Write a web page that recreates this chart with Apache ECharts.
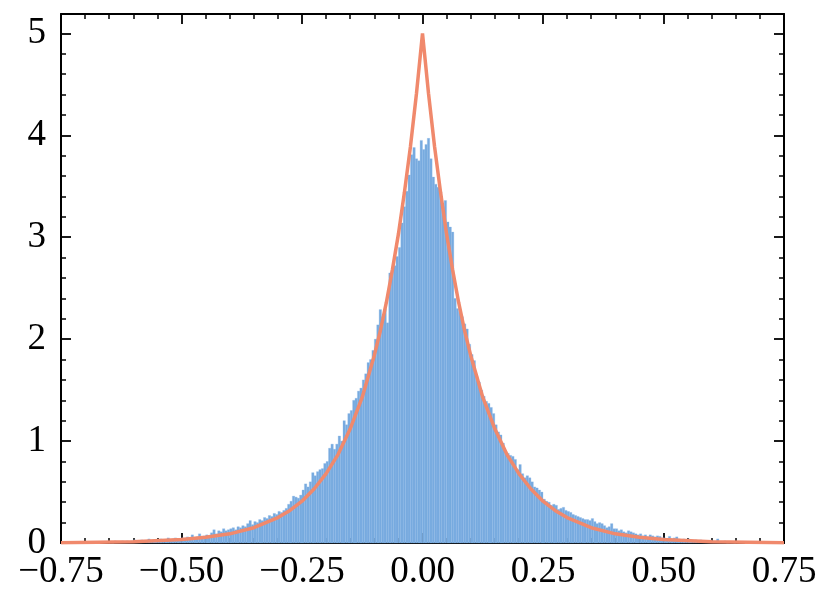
<!DOCTYPE html>
<html>
<head>
<meta charset="utf-8">
<script src="https://cdn.jsdelivr.net/npm/echarts@6/dist/echarts.min.js"></script>
<style>
  html, body { margin: 0; padding: 0; background: #fff; }
  #main { width: 831px; height: 602px; }
</style>
</head>
<body>
<div id="main"></div>
<script>
// histogram: bins of width 0.005 starting at -0.65
var binStart = -0.65
var binWidth = 0.005
var binHeights = [
  0.01, 0.00, 0.02, 0.01, 0.01, 0.02, 0.01, 0.02, 0.01, 0.02,
  0.03, 0.02, 0.01, 0.03, 0.02, 0.02, 0.04, 0.02, 0.03, 0.03,
  0.03, 0.04, 0.03, 0.02, 0.05, 0.03, 0.04, 0.05, 0.03, 0.04,
  0.05, 0.04, 0.06, 0.05, 0.08, 0.05, 0.06, 0.09, 0.06, 0.07,
  0.08, 0.07, 0.10, 0.13, 0.09, 0.12, 0.11, 0.14, 0.12, 0.13,
  0.14, 0.15, 0.13, 0.16, 0.15, 0.17, 0.16, 0.19, 0.22, 0.18,
  0.21, 0.20, 0.23, 0.22, 0.25, 0.24, 0.27, 0.26, 0.29, 0.28,
  0.31, 0.30, 0.32, 0.34, 0.38, 0.41, 0.46, 0.45, 0.44, 0.47,
  0.52, 0.58, 0.55, 0.60, 0.69, 0.66, 0.70, 0.72, 0.73, 0.78,
  0.80, 0.93, 0.97, 0.92, 0.97, 1.05, 1.00, 1.20, 1.16, 1.27,
  1.30, 1.40, 1.42, 1.49, 1.52, 1.60, 1.66, 1.77, 1.80, 1.89,
  2.00, 2.14, 2.29, 2.22, 2.30, 2.16, 2.65, 2.68, 2.72, 2.81,
  2.90, 3.14, 3.30, 3.45, 3.61, 3.81, 3.88, 3.77, 3.75, 3.95,
  3.86, 3.91, 3.97, 3.77, 3.59, 3.52, 3.49, 3.45, 3.30, 3.36,
  3.15, 3.10, 3.05, 2.40, 2.30, 2.27, 2.22, 2.15, 2.10, 1.95,
  1.85, 1.79, 1.64, 1.58, 1.50, 1.44, 1.39, 1.37, 1.33, 1.27,
  1.16, 1.09, 1.06, 0.98, 0.90, 0.88, 0.86, 0.85, 0.82, 0.72,
  0.77, 0.68, 0.64, 0.66, 0.64, 0.60, 0.55, 0.54, 0.52, 0.50,
  0.43, 0.41, 0.40, 0.37, 0.38, 0.37, 0.33, 0.34, 0.35, 0.32,
  0.31, 0.30, 0.28, 0.27, 0.26, 0.25, 0.24, 0.23, 0.23, 0.22,
  0.24, 0.21, 0.19, 0.20, 0.19, 0.17, 0.15, 0.16, 0.19, 0.14,
  0.14, 0.12, 0.13, 0.11, 0.10, 0.12, 0.11, 0.10, 0.09, 0.08,
  0.09, 0.07, 0.08, 0.06, 0.08, 0.07, 0.06, 0.07, 0.065, 0.05,
  0.05, 0.04, 0.065, 0.04, 0.05, 0.06, 0.04, 0.03, 0.04, 0.03,
  0.04, 0.03, 0.02, 0.03, 0.02, 0.03, 0.02, 0.01, 0.02, 0.02,
  0.02, 0.01, 0.04, 0.01, 0.01, 0.02, 0.00, 0.01, 0.01, 0.00
]

// density curve
var curveX = [-0.75, -0.6, -0.5, -0.45, -0.4, -0.35, -0.3, -0.275, -0.25, -0.225, -0.2, -0.175, -0.15, -0.125, -0.1,
  -0.0875, -0.075, -0.0625, -0.05, -0.0375, -0.025, -0.0125, 0,
  0.0125, 0.025, 0.0375, 0.05, 0.0625, 0.075, 0.0875,
  0.1, 0.125, 0.15, 0.175, 0.2, 0.225, 0.25, 0.275, 0.3, 0.35, 0.4, 0.45, 0.5, 0.6, 0.75]
var curveY = [0.003, 0.012, 0.034, 0.056, 0.09, 0.15, 0.25, 0.32, 0.41, 0.53, 0.68, 0.87, 1.12, 1.43, 1.84,
  2.08, 2.36, 2.68, 3.03, 3.44, 3.89, 4.41, 5.00,
  4.41, 3.89, 3.44, 3.03, 2.68, 2.36, 2.08,
  1.84, 1.43, 1.12, 0.87, 0.68, 0.53, 0.41, 0.32, 0.25, 0.15, 0.09, 0.056, 0.034, 0.012, 0.003]

var xTicks = [-0.75, -0.5, -0.25, 0, 0.25, 0.5, 0.75]
var yTicks = [0, 1, 2, 3, 4, 5]

var chart = echarts.init(document.getElementById('main'))

var histData = binHeights.map(function (h, i) {
  var x0 = binStart + i * binWidth
  return [x0, x0 + binWidth, h]
})
var curveData = curveX.map(function (x, i) { return [x, curveY[i]] })

var font = 'Liberation Serif, DejaVu Serif, serif'
var fmtX = function (v) {
  var s = Math.abs(v).toFixed(2)
  return (v < -1e-9 ? '\u2212' : '') + s
}

function axisCommon (show) {
  return {
    axisLine: { show: true, onZero: false, lineStyle: { color: '#000', width: 2 } },
    axisTick: { show: true, inside: true, length: 10, lineStyle: { color: '#000', width: 1.8 } },
    minorTick: { show: true, splitNumber: 5, length: 5, lineStyle: { color: '#000', width: 1.5 } },
    splitLine: { show: false },
    axisLabel: { show: show }
  }
}

var xBottom = Object.assign(axisCommon(true), {
  type: 'value', position: 'bottom', min: -0.75, max: 0.75, interval: 0.25
})
xBottom.axisLabel = {
  show: true, fontFamily: font, fontSize: 37, color: '#000', margin: 11,
  formatter: fmtX
}
var xTop = Object.assign(axisCommon(false), {
  type: 'value', position: 'top', min: -0.75, max: 0.75, interval: 0.25
})
var yLeft = Object.assign(axisCommon(true), {
  type: 'value', position: 'left', min: 0, max: 5.19, interval: 1
})
yLeft.axisLabel = {
  show: true, fontFamily: font, fontSize: 37, color: '#000', margin: 15,
  showMaxLabel: false,
  formatter: function (v) { return yTicks.indexOf(v) >= 0 ? String(v) : '' }
}
var yRight = Object.assign(axisCommon(false), {
  type: 'value', position: 'right', min: 0, max: 5.19, interval: 1
})

chart.setOption({
  animation: false,
  grid: { left: 61, right: 47, top: 14, bottom: 59, containLabel: false },
  xAxis: [xBottom, xTop],
  yAxis: [yLeft, yRight],
  series: [
    {
      type: 'custom',
      name: 'hist',
      xAxisIndex: 0,
      yAxisIndex: 0,
      data: histData,
      encode: { x: [0, 1], y: 2 },
      renderItem: function (params, api) {
        var p0 = api.coord([api.value(0), api.value(2)])
        var p1 = api.coord([api.value(1), 0])
        return {
          type: 'rect',
          shape: { x: p0[0], y: p0[1], width: p1[0] - p0[0], height: p1[1] - p0[1] },
          style: { fill: '#77aadf', stroke: '#8cb8e6', lineWidth: 0.3 }
        }
      }
    },
    {
      type: 'line',
      name: 'pdf',
      xAxisIndex: 0,
      yAxisIndex: 0,
      data: curveData,
      showSymbol: false,
      z: 5,
      lineStyle: { color: '#f0896c', width: 3.5 }
    }
  ]
})
</script>
</body>
</html>
